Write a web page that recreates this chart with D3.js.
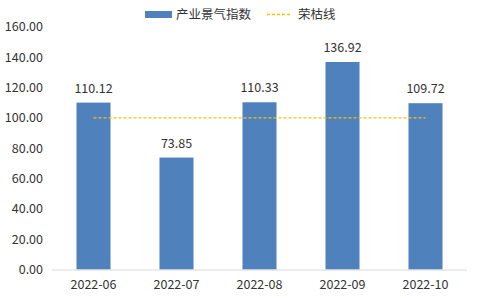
<!DOCTYPE html>
<meta charset="utf-8">
<style>
body { margin: 0; background: #fff; }
svg { font-family: "Noto Sans CJK SC", "Noto Sans", sans-serif; }
</style>
<svg width="480" height="298"></svg>
<script src="https://d3js.org/d3.v7.min.js"></script>
<script>
var months = ["2022-06", "2022-07", "2022-08", "2022-09", "2022-10"];
var index = [110.12, 73.85, 110.33, 136.92, 109.72];
var boomLine = [100, 100, 100, 100, 100];
var yTicks = [0, 20, 40, 60, 80, 100, 120, 140, 160];

var svg = d3.select("svg");
var blue = "#4f81bd", gold = "#ffc000", ink = "#333";

var x = d3.scaleBand().domain(months).range([52, 467]).paddingInner(0.59).paddingOuter(0.295);
var y = d3.scaleLinear().domain([0, 160]).range([269.5, 27]);

// y axis labels
svg.append("g").selectAll("text")
    .data(yTicks)
  .enter().append("text")
    .attr("x", 43)
    .attr("y", function(d) { return y(d); })
    .attr("dy", "0.35em")
    .attr("text-anchor", "end")
    .attr("font-size", 12.5)
    .attr("fill", ink)
    .text(function(d) { return d.toFixed(2); });

// bars
svg.append("g").selectAll("rect")
    .data(index)
  .enter().append("rect")
    .attr("x", function(d, i) { return x(months[i]); })
    .attr("y", function(d) { return y(d); })
    .attr("width", x.bandwidth())
    .attr("height", function(d) { return y(0) - y(d); })
    .attr("fill", blue);

// value labels
svg.append("g").selectAll("text")
    .data(index)
  .enter().append("text")
    .attr("x", function(d, i) { return x(months[i]) + x.bandwidth() / 2; })
    .attr("y", function(d) { return y(d) - 10; })
    .attr("text-anchor", "middle")
    .attr("font-size", 12.5)
    .attr("fill", ink)
    .text(function(d) { return d.toFixed(2); });

// x axis
svg.append("line")
    .attr("x1", 52).attr("x2", 467)
    .attr("y1", 270).attr("y2", 270)
    .attr("stroke", "#d9d9d9");

svg.append("g").selectAll("text")
    .data(months)
  .enter().append("text")
    .attr("x", function(d) { return x(d) + x.bandwidth() / 2; })
    .attr("y", 285)
    .attr("dy", "0.35em")
    .attr("text-anchor", "middle")
    .attr("font-size", 12.5)
    .attr("fill", ink)
    .text(function(d) { return d; });

// boom-bust line
var line = d3.line()
    .x(function(d, i) { return x(months[i]) + x.bandwidth() / 2; })
    .y(function(d) { return y(d); });

svg.append("path")
    .datum(boomLine)
    .attr("d", line)
    .attr("fill", "none")
    .attr("stroke", gold)
    .attr("stroke-width", 1.3)
    .attr("stroke-dasharray", "3,2");

// legend
var lg = svg.append("g");
lg.append("rect").attr("x", 145).attr("y", 11).attr("width", 27).attr("height", 7).attr("fill", blue);
lg.append("text").attr("x", 176).attr("y", 15).attr("dy", "0.35em").attr("font-size", 12.5).attr("fill", ink).text("产业景气指数");
lg.append("line").attr("x1", 267).attr("x2", 292).attr("y1", 14.5).attr("y2", 14.5)
    .attr("stroke", gold).attr("stroke-width", 1.3).attr("stroke-dasharray", "3,2");
lg.append("text").attr("x", 298).attr("y", 15).attr("dy", "0.35em").attr("font-size", 12.5).attr("fill", ink).text("荣枯线");
</script>
